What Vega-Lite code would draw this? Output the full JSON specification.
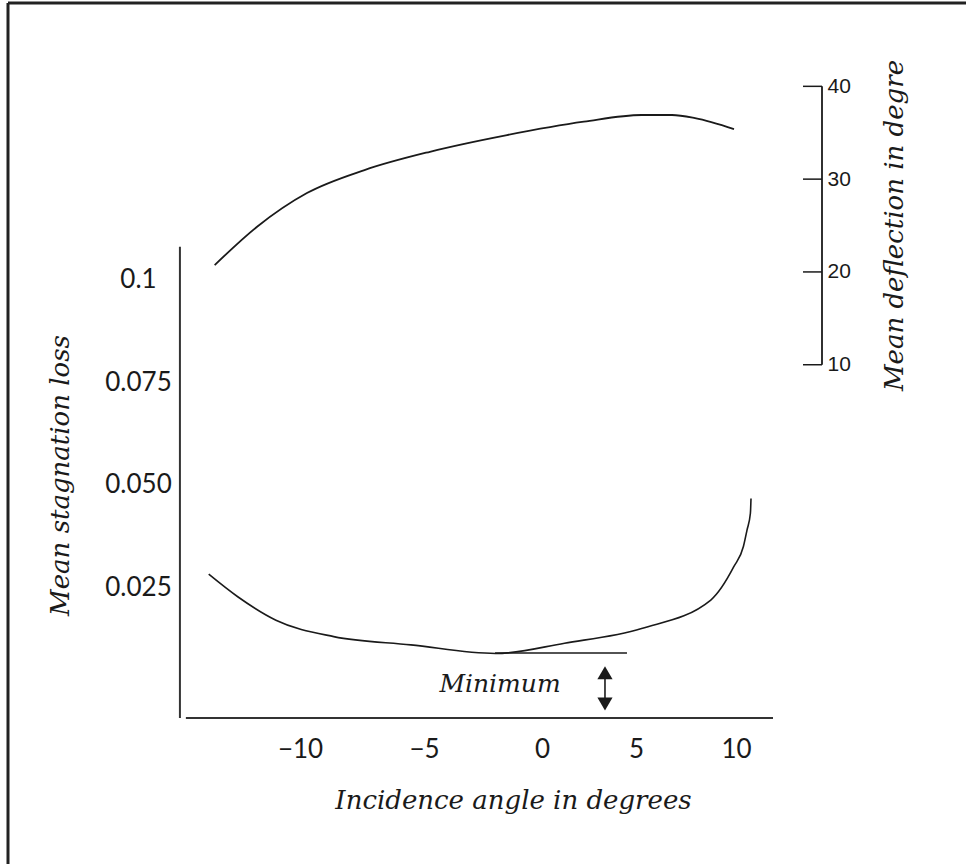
{
  "$schema": "https://vega.github.io/schema/vega-lite/v6.json",
  "width": 958,
  "height": 861,
  "autosize": {"type": "none"},
  "padding": {"left": 8, "top": 3, "right": 0, "bottom": 0},
  "background": "white",
  "config": {"view": {"stroke": null}},
  "datasets": {
    "loss": [
      {"angle": -13.68, "loss": 0.0283},
      {"angle": -12.51, "loss": 0.0228},
      {"angle": -10.97, "loss": 0.0171},
      {"angle": -8.64, "loss": 0.0131},
      {"angle": -5.53, "loss": 0.0111},
      {"angle": -1.97, "loss": 0.0090},
      {"angle": 1.2, "loss": 0.0115},
      {"angle": 5.28, "loss": 0.0151},
      {"angle": 8.74, "loss": 0.0220},
      {"angle": 9.89, "loss": 0.0301},
      {"angle": 10.37, "loss": 0.0350},
      {"angle": 10.55, "loss": 0.0390},
      {"angle": 10.72, "loss": 0.0431},
      {"angle": 10.75, "loss": 0.0467}
    ],
    "deflection": [
      {"angle": -13.44, "deflection": 20.74},
      {"angle": -11.73, "deflection": 24.87},
      {"angle": -9.72, "deflection": 28.5},
      {"angle": -7.4, "deflection": 30.98},
      {"angle": -4.75, "deflection": 32.95},
      {"angle": -1.48, "deflection": 34.75},
      {"angle": 2.23, "deflection": 36.19},
      {"angle": 5.28, "deflection": 36.91},
      {"angle": 6.8, "deflection": 36.91},
      {"angle": 7.95, "deflection": 36.58},
      {"angle": 9.9, "deflection": 35.4}
    ],
    "tangent": [{"from": -1.99, "to": 4.52, "loss": 0.0091}],
    "arrow": [{"angle": 3.35, "top": 0.0043, "bottom": -0.0033, "label": "Minimum", "labelAngle": -1.78, "labelLoss": 0.0016}],
    "defTicks": [{"deflection": 10}, {"deflection": 20}, {"deflection": 30}, {"deflection": 40}],
    "one": [{}]
  },
  "layer": [
    {
      "layer": [
        {
          "data": {"name": "loss"},
          "mark": {"type": "line", "interpolate": "monotone", "color": "#1a1a1a", "strokeWidth": 1.6},
          "encoding": {
            "x": {
              "field": "angle", "type": "quantitative",
              "scale": {"domain": [-21.77, -10, -5, 0, 5, 10, 21.5], "range": [0, 292, 416, 534, 628, 728, 958], "nice": false, "zero": false},
              "axis": {
                "orient": "bottom", "offset": -146, "values": [-10, -5, 0, 5, 10],
                "domain": false, "ticks": false, "tickSize": 0, "grid": false,
                "labelFont": "Lato", "labelFontSize": 26, "labelColor": "#1a1a1a", "labelPadding": 18, "labelFlush": false,
                "title": "Incidence angle in degrees", "titleFont": "DejaVu Serif", "titleFontStyle": "italic",
                "titleFontWeight": "normal", "titleFontSize": 26, "titleColor": "#1a1a1a",
                "titleX": 505, "titleY": 82, "titleAlign": "center", "titleBaseline": "middle"
              }
            },
            "y": {
              "field": "loss", "type": "quantitative",
              "scale": {"domain": [-0.0422, 0.1672], "nice": false, "zero": false},
              "axis": {
                "orient": "left", "offset": -172, "values": [0.025, 0.05, 0.075, 0.1],
                "labelExpr": "datum.value == 0.1 ? '0.1' : format(datum.value, '.3f')",
                "domain": false, "ticks": false, "tickSize": 0, "grid": false,
                "labelFont": "Lato", "labelFontSize": 26, "labelColor": "#1a1a1a", "labelAlign": "center", "labelPadding": 42,
                "title": "Mean stagnation  loss", "titleFont": "DejaVu Serif", "titleFontStyle": "italic",
                "titleFontWeight": "normal", "titleFontSize": 26, "titleColor": "#1a1a1a",
                "titleX": -120, "titleY": 472, "titleAlign": "center", "titleBaseline": "middle", "titleAngle": -90
              }
            }
          }
        },
        {
          "data": {"name": "tangent"},
          "mark": {"type": "rule", "color": "#1a1a1a", "strokeWidth": 1.6},
          "encoding": {
            "x": {"field": "from", "type": "quantitative", "scale": {"domain": [-21.77, -10, -5, 0, 5, 10, 21.5], "range": [0, 292, 416, 534, 628, 728, 958], "nice": false, "zero": false}},
            "x2": {"field": "to"},
            "y": {"field": "loss", "type": "quantitative"}
          }
        },
        {
          "data": {"name": "arrow"},
          "mark": {"type": "rule", "color": "#1a1a1a", "strokeWidth": 1.6},
          "encoding": {
            "x": {"field": "angle", "type": "quantitative", "scale": {"domain": [-21.77, -10, -5, 0, 5, 10, 21.5], "range": [0, 292, 416, 534, 628, 728, 958], "nice": false, "zero": false}},
            "y": {"field": "top", "type": "quantitative"},
            "y2": {"field": "bottom"}
          }
        },
        {
          "data": {"name": "arrow"},
          "mark": {"type": "point", "shape": "triangle-up", "filled": true, "color": "#1a1a1a", "size": 230, "opacity": 1},
          "encoding": {
            "x": {"field": "angle", "type": "quantitative", "scale": {"domain": [-21.77, -10, -5, 0, 5, 10, 21.5], "range": [0, 292, 416, 534, 628, 728, 958], "nice": false, "zero": false}},
            "y": {"field": "top", "type": "quantitative"}
          }
        },
        {
          "data": {"name": "arrow"},
          "mark": {"type": "point", "shape": "triangle-down", "filled": true, "color": "#1a1a1a", "size": 230, "opacity": 1},
          "encoding": {
            "x": {"field": "angle", "type": "quantitative", "scale": {"domain": [-21.77, -10, -5, 0, 5, 10, 21.5], "range": [0, 292, 416, 534, 628, 728, 958], "nice": false, "zero": false}},
            "y": {"field": "bottom", "type": "quantitative"}
          }
        },
        {
          "data": {"name": "arrow"},
          "mark": {"type": "text", "font": "DejaVu Serif", "fontStyle": "italic", "fontSize": 25, "color": "#1a1a1a", "align": "center", "baseline": "middle"},
          "encoding": {
            "x": {"field": "labelAngle", "type": "quantitative", "scale": {"domain": [-21.77, -10, -5, 0, 5, 10, 21.5], "range": [0, 292, 416, 534, 628, 728, 958], "nice": false, "zero": false}},
            "y": {"field": "labelLoss", "type": "quantitative"},
            "text": {"field": "label"}
          }
        },
        {
          "data": {"name": "one"},
          "mark": {"type": "rule", "color": "#333333", "strokeWidth": 2},
          "encoding": {
            "x": {"datum": -14.84, "type": "quantitative", "scale": {"domain": [-21.77, -10, -5, 0, 5, 10, 21.5], "range": [0, 292, 416, 534, 628, 728, 958], "nice": false, "zero": false}},
            "y": {"datum": 0.1079, "type": "quantitative"},
            "y2": {"datum": -0.0067}
          }
        },
        {
          "data": {"name": "one"},
          "mark": {"type": "rule", "color": "#333333", "strokeWidth": 2},
          "encoding": {
            "x": {"datum": -14.6, "type": "quantitative", "scale": {"domain": [-21.77, -10, -5, 0, 5, 10, 21.5], "range": [0, 292, 416, 534, 628, 728, 958], "nice": false, "zero": false}},
            "x2": {"datum": 11.85},
            "y": {"datum": -0.0067, "type": "quantitative"}
          }
        },
        {
          "data": {"name": "one"},
          "mark": {"type": "rule", "color": "#222222", "strokeWidth": 3},
          "encoding": {
            "x": {"datum": -21.77, "type": "quantitative", "scale": {"domain": [-21.77, -10, -5, 0, 5, 10, 21.5], "range": [0, 292, 416, 534, 628, 728, 958], "nice": false, "zero": false}},
            "y": {"datum": 0.1672, "type": "quantitative"},
            "y2": {"datum": -0.0422}
          }
        },
        {
          "data": {"name": "one"},
          "mark": {"type": "rule", "color": "#222222", "strokeWidth": 3},
          "encoding": {
            "x": {"datum": -21.77, "type": "quantitative", "scale": {"domain": [-21.77, -10, -5, 0, 5, 10, 21.5], "range": [0, 292, 416, 534, 628, 728, 958], "nice": false, "zero": false}},
            "x2": {"datum": 21.5},
            "y": {"datum": 0.1672, "type": "quantitative"}
          }
        }
      ]
    },
    {
      "layer": [
        {
          "data": {"name": "deflection"},
          "mark": {"type": "line", "interpolate": "monotone", "color": "#1a1a1a", "strokeWidth": 1.8},
          "encoding": {
            "x": {"field": "angle", "type": "quantitative", "scale": {"domain": [-21.77, -10, -5, 0, 5, 10, 21.5], "range": [0, 292, 416, 534, 628, 728, 958], "nice": false, "zero": false}},
            "y": {
              "field": "deflection", "type": "quantitative",
              "scale": {"domain": [-43.8, 48.98], "nice": false, "zero": false},
              "axis": {
                "orient": "right", "offset": -144, "values": [10, 20, 30, 40],
                "domain": false, "ticks": false, "tickSize": 0, "grid": false,
                "labelFont": "Liberation Sans", "labelFontSize": 21, "labelColor": "#1a1a1a", "labelAlign": "left", "labelPadding": 5,
                "title": "Mean deflection in degre", "titleFont": "DejaVu Serif", "titleFontStyle": "italic",
                "titleFontWeight": "normal", "titleFontSize": 26, "titleColor": "#1a1a1a",
                "titleX": 72, "titleY": 222, "titleAlign": "center", "titleBaseline": "middle", "titleAngle": -90
              }
            }
          }
        },
        {
          "data": {"name": "one"},
          "mark": {"type": "rule", "color": "#1a1a1a", "strokeWidth": 1.8},
          "encoding": {
            "x": {"datum": 14.3, "type": "quantitative", "scale": {"domain": [-21.77, -10, -5, 0, 5, 10, 21.5], "range": [0, 292, 416, 534, 628, 728, 958], "nice": false, "zero": false}},
            "y": {"datum": 40, "type": "quantitative"},
            "y2": {"datum": 10}
          }
        },
        {
          "data": {"name": "defTicks"},
          "mark": {"type": "rule", "color": "#1a1a1a", "strokeWidth": 1.5},
          "encoding": {
            "x": {"datum": 13.35, "type": "quantitative", "scale": {"domain": [-21.77, -10, -5, 0, 5, 10, 21.5], "range": [0, 292, 416, 534, 628, 728, 958], "nice": false, "zero": false}},
            "x2": {"datum": 14.3},
            "y": {"field": "deflection", "type": "quantitative"}
          }
        }
      ]
    }
  ],
  "resolve": {"scale": {"y": "independent"}, "axis": {"y": "independent"}}
}
